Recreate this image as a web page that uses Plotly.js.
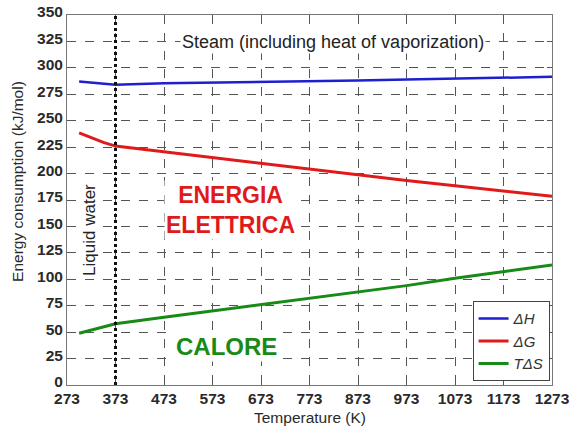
<!DOCTYPE html>
<html>
<head>
<meta charset="utf-8">
<script src="https://cdn.plot.ly/plotly-3.0.1.min.js"></script>
<style>html,body{margin:0;padding:0;background:#fff;}#chart{width:573px;height:426px;}</style>
</head>
<body>
<div id="chart"></div>
<script>
const temperature = [298, 323, 348, 373, 473, 573, 673, 773, 873, 973, 1073, 1173, 1273];
const deltaH = [287, 286, 284.5, 284, 285.5, 286, 286.5, 287.5, 288, 289, 290, 291, 291.5];
const deltaG = [238.5, 234, 229.5, 226, 220.5, 215, 209.5, 204, 199, 193.5, 188.5, 183.5, 178.5];
const tDeltaS = [49, 52, 55, 58, 64, 70, 76, 82, 88, 94, 101, 107.5, 113.5];
const xTicks = [273, 373, 473, 573, 673, 773, 873, 973, 1073, 1173, 1273];
const boilingPoint = 373;
const seriesNames = ['<i>ΔH</i>', '<i>ΔG</i>', '<i>TΔS</i>'];

const FONT = 'Liberation Sans, Arial, sans-serif';

const traces = [
  {x: temperature, y: deltaH, name: seriesNames[0], mode: 'lines', line: {color: '#1f1fd0', width: 2.5}},
  {x: temperature, y: deltaG, name: seriesNames[1], mode: 'lines', line: {color: '#e01a1a', width: 3}},
  {x: temperature, y: tDeltaS, name: seriesNames[2], mode: 'lines', line: {color: '#178a17', width: 3}}
];

const axisFont = {family: FONT, size: 15.5, color: '#2a2a2a', weight: 'bold'};

const layout = {
  width: 573, height: 426,
  margin: {l: 67, r: 21, t: 15, b: 41},
  paper_bgcolor: '#fff', plot_bgcolor: '#fff',
  showlegend: true,
  legend: {x: 0.995, y: 0.01, xanchor: 'right', yanchor: 'bottom', bgcolor: '#fff', bordercolor: '#444', borderwidth: 1,
           font: {family: FONT, size: 15, color: '#333'}, tracegroupgap: 0},
  xaxis: {
    range: [273, 1273], tickvals: xTicks, ticktext: xTicks.map(String),
    showgrid: true, gridcolor: '#555', griddash: 'dash', gridwidth: 1,
    ticks: 'inside', ticklen: 5, tickcolor: '#555',
    showline: true, linecolor: '#777', linewidth: 1, mirror: 'ticks',
    zeroline: false, tickfont: axisFont, ticklabelstandoff: -1
  },
  yaxis: {
    range: [0, 350], dtick: 25, tick0: 0,
    showgrid: true, gridcolor: '#555', griddash: 'dash', gridwidth: 1,
    ticks: 'inside', ticklen: 5, tickcolor: '#555',
    showline: true, linecolor: '#777', linewidth: 1, mirror: 'ticks',
    zeroline: false, tickfont: axisFont, ticklabelshift: -3
  },
  shapes: [
    {type: 'line', xref: 'x', yref: 'paper', x0: boilingPoint, x1: boilingPoint, y0: 0, y1: 1,
     line: {color: '#111', width: 3, dash: 'dot'}}
  ],
  annotations: [
    {text: 'Temperature (K)', xref: 'paper', yref: 'paper', x: 0.5, y: -0.087, xanchor: 'center', yanchor: 'middle',
     showarrow: false, font: {family: FONT, size: 15.5, color: '#2a2a2a'}},
    {text: 'Energy consumption (kJ/mol)', xref: 'paper', yref: 'paper', x: -0.101, y: 0.549, xanchor: 'center', yanchor: 'middle',
     showarrow: false, textangle: -90, font: {family: FONT, size: 15.5, color: '#2a2a2a'}},
    {text: 'Steam (including heat of vaporization)', xref: 'x', yref: 'y', x: 821, y: 324.5, showarrow: false,
     font: {family: FONT, size: 18, color: '#222'}, bgcolor: '#fff'},
    {text: 'Liquid water', xref: 'x', yref: 'y', x: 319, y: 147, showarrow: false, textangle: -90,
     font: {family: FONT, size: 17, color: '#222'}, bgcolor: '#fff'},
    {text: '<b>ENERGIA<br>ELETTRICA</b>', xref: 'x', yref: 'y', x: 611, y: 166, showarrow: false,
     font: {family: FONT, size: 23, color: '#e01a1a'}, bgcolor: '#fff'},
    {text: '<b>CALORE</b>', xref: 'x', yref: 'y', x: 602, y: 36, showarrow: false,
     font: {family: FONT, size: 24, color: '#178a17'}, bgcolor: '#fff'}
  ]
};

Plotly.newPlot('chart', traces, layout, {displayModeBar: false, staticPlot: true});
</script>
</body>
</html>
